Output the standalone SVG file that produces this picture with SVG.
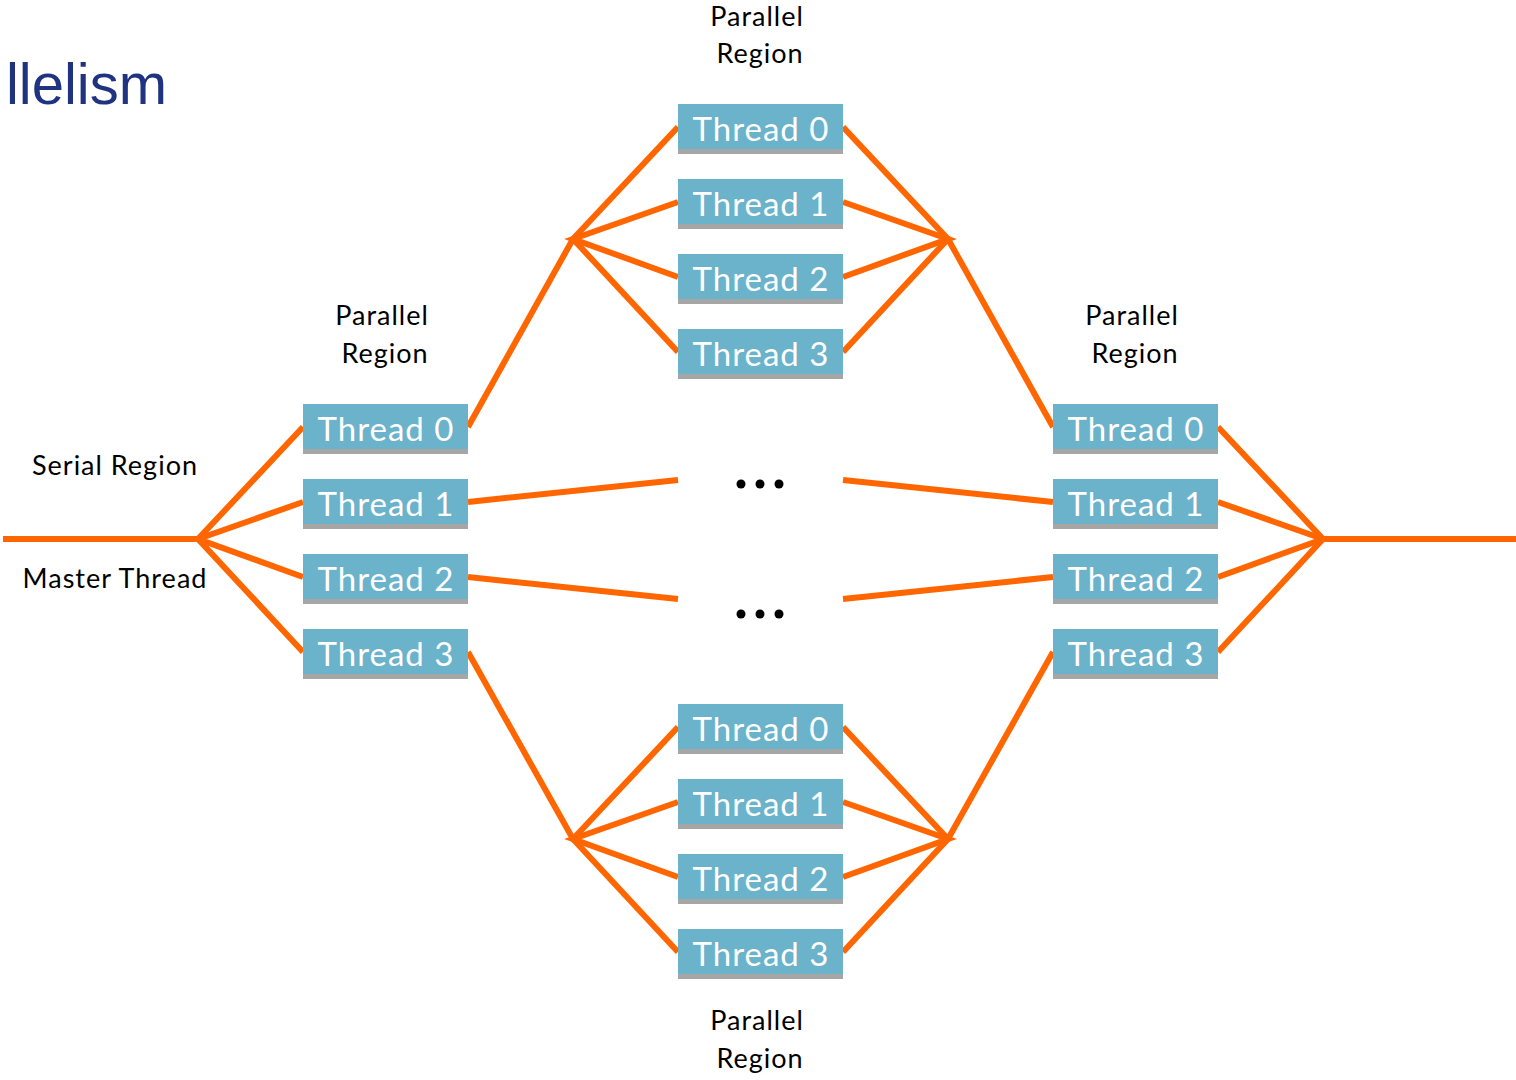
<svg xmlns="http://www.w3.org/2000/svg" width="1516" height="1080" viewBox="0 0 1516 1080">
  <defs>
    <style>
      .wire { stroke: #FF6600; stroke-width: 6; fill: none; stroke-linecap: butt; stroke-linejoin: miter; }
      .box { fill: #6BB2CB; }
      .shadow { fill: #A6A6A6; }
      .tname { font-family: Lato, "Liberation Sans", sans-serif; font-size: 33px; letter-spacing: 1px; fill: #FFFFFF; text-anchor: middle; }
      .label { font-family: Lato, "Liberation Sans", sans-serif; font-size: 27px; letter-spacing: 1px; fill: #000000; text-anchor: middle; }
      .title { font-family: "Liberation Sans", Arial, sans-serif; font-size: 58px; fill: #1F3381; }
      .dot { fill: #000000; }
    </style>
    <!-- thread box: shadow bar under a blue rectangle, 165 x 50 -->
    <g id="tbox">
      <rect class="shadow" x="0" y="44" width="165" height="6"/>
      <rect class="box" x="0" y="0" width="165" height="45"/>
    </g>
  </defs>

  <rect width="1516" height="1080" fill="#FFFFFF"/>

  <text class="title" x="167" y="104" text-anchor="end">llelism</text>

  <!-- connectors -->
  <g id="connectors">
    <!-- master thread in / out -->
    <polyline class="wire" points="3,539 198,539"/>
    <polyline class="wire" points="1323,539 1516,539"/>
    <!-- fork into first region -->
    <polyline class="wire" points="303,427 198,539 303,652"/>
    <polyline class="wire" points="303,502 198,539 303,577"/>
    <!-- join after last region -->
    <polyline class="wire" points="1218,427 1323,539 1218,652"/>
    <polyline class="wire" points="1218,502 1323,539 1218,577"/>
    <!-- nested fork/join, top -->
    <polyline class="wire" points="468,427 573,239"/>
    <polyline class="wire" points="678,127 573,239 678,352"/>
    <polyline class="wire" points="678,202 573,239 678,277"/>
    <polyline class="wire" points="843,127 948,239 843,352"/>
    <polyline class="wire" points="843,202 948,239 843,277"/>
    <polyline class="wire" points="948,239 1053,427"/>
    <!-- nested fork/join, bottom -->
    <polyline class="wire" points="468,652 573,839"/>
    <polyline class="wire" points="678,727 573,839 678,952"/>
    <polyline class="wire" points="678,802 573,839 678,877"/>
    <polyline class="wire" points="843,727 948,839 843,952"/>
    <polyline class="wire" points="843,802 948,839 843,877"/>
    <polyline class="wire" points="948,839 1053,652"/>
    <!-- elided middle threads -->
    <polyline class="wire" points="468,502 678,480"/>
    <polyline class="wire" points="843,480 1053,502"/>
    <polyline class="wire" points="468,577 678,599"/>
    <polyline class="wire" points="843,599 1053,577"/>
  </g>

  <!-- ellipses -->
  <g id="dots-upper">
    <circle class="dot" cx="741" cy="484" r="4.5"/>
    <circle class="dot" cx="760" cy="484" r="4.5"/>
    <circle class="dot" cx="779" cy="484" r="4.5"/>
  </g>
  <g id="dots-lower">
    <circle class="dot" cx="741" cy="614" r="4.5"/>
    <circle class="dot" cx="760" cy="614" r="4.5"/>
    <circle class="dot" cx="779" cy="614" r="4.5"/>
  </g>

  <!-- region labels -->
  <text class="label" x="115" y="475">Serial Region</text>
  <text class="label" x="115" y="588">Master Thread</text>
  <text class="label" x="382" y="325">Parallel</text>
  <text class="label" x="385" y="363">Region</text>
  <text class="label" x="1132" y="325">Parallel</text>
  <text class="label" x="1135" y="363">Region</text>
  <text class="label" x="757" y="26">Parallel</text>
  <text class="label" x="760" y="63">Region</text>
  <text class="label" x="757" y="1030">Parallel</text>
  <text class="label" x="760" y="1068">Region</text>

  <!-- left region threads -->
  <g id="left-t0"><use href="#tbox" x="303" y="404"/><text class="tname" x="386" y="441">Thread 0</text></g>
  <g id="left-t1"><use href="#tbox" x="303" y="479"/><text class="tname" x="386" y="516">Thread 1</text></g>
  <g id="left-t2"><use href="#tbox" x="303" y="554"/><text class="tname" x="386" y="591">Thread 2</text></g>
  <g id="left-t3"><use href="#tbox" x="303" y="629"/><text class="tname" x="386" y="666">Thread 3</text></g>

  <!-- top nested region threads -->
  <g id="top-t0"><use href="#tbox" x="678" y="104"/><text class="tname" x="761" y="141">Thread 0</text></g>
  <g id="top-t1"><use href="#tbox" x="678" y="179"/><text class="tname" x="761" y="216">Thread 1</text></g>
  <g id="top-t2"><use href="#tbox" x="678" y="254"/><text class="tname" x="761" y="291">Thread 2</text></g>
  <g id="top-t3"><use href="#tbox" x="678" y="329"/><text class="tname" x="761" y="366">Thread 3</text></g>

  <!-- bottom nested region threads -->
  <g id="bot-t0"><use href="#tbox" x="678" y="704"/><text class="tname" x="761" y="741">Thread 0</text></g>
  <g id="bot-t1"><use href="#tbox" x="678" y="779"/><text class="tname" x="761" y="816">Thread 1</text></g>
  <g id="bot-t2"><use href="#tbox" x="678" y="854"/><text class="tname" x="761" y="891">Thread 2</text></g>
  <g id="bot-t3"><use href="#tbox" x="678" y="929"/><text class="tname" x="761" y="966">Thread 3</text></g>

  <!-- right region threads -->
  <g id="right-t0"><use href="#tbox" x="1053" y="404"/><text class="tname" x="1136" y="441">Thread 0</text></g>
  <g id="right-t1"><use href="#tbox" x="1053" y="479"/><text class="tname" x="1136" y="516">Thread 1</text></g>
  <g id="right-t2"><use href="#tbox" x="1053" y="554"/><text class="tname" x="1136" y="591">Thread 2</text></g>
  <g id="right-t3"><use href="#tbox" x="1053" y="629"/><text class="tname" x="1136" y="666">Thread 3</text></g>
</svg>
